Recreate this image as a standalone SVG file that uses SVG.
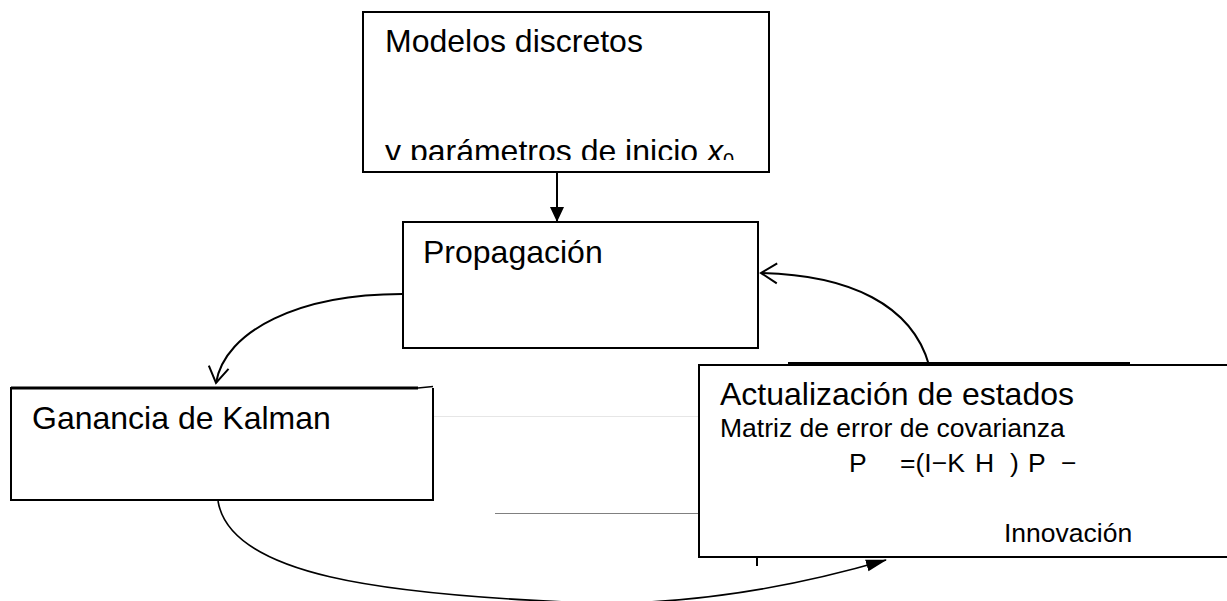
<svg xmlns="http://www.w3.org/2000/svg" width="1227" height="601" viewBox="0 0 1227 601">
<style>
.box{fill:#fff;stroke:#000;stroke-width:2}
.t{font-family:"Liberation Sans",Arial,sans-serif;fill:#000}
.h{font-size:32px}
.s{font-size:26.5px}
.c{fill:none;stroke:#000;stroke-width:2}
</style>
<defs>
<marker id="fill" markerWidth="16" markerHeight="14" refX="14" refY="7" orient="auto" markerUnits="userSpaceOnUse">
<path d="M0,0 L15,7 L0,14 Z" fill="#000"/>
</marker>
<marker id="fill2" markerWidth="22" markerHeight="14" refX="20" refY="7" orient="auto" markerUnits="userSpaceOnUse">
<path d="M0,1 L21,7 L0,13 Z" fill="#000"/>
</marker>
<marker id="open" markerWidth="20" markerHeight="24" refX="18" refY="12" orient="auto" markerUnits="userSpaceOnUse">
<path d="M2,2 L18,12 L2,22" fill="none" stroke="#000" stroke-width="2"/>
</marker>
<clipPath id="clipTop"><rect x="363" y="12" width="406" height="148"/></clipPath>
</defs>
<rect width="1227" height="601" fill="#fff"/>

<g id="connectors">
<line x1="557" y1="172" x2="557" y2="221" class="c" marker-end="url(#fill)"/>
<path d="M402,294 C300,294 225,330 216,383" class="c" marker-end="url(#open)"/>
<path d="M929,365 C912,305 850,275 761,273" class="c" marker-end="url(#open)"/>
<path d="M218,501 C230,575 380,595 590,603 C700,605 800,585 886,560" fill="none" stroke="#000" stroke-width="1.6" marker-end="url(#fill2)"/>
<line x1="495" y1="513.5" x2="699" y2="513.5" stroke="#808080" stroke-width="1.2"/>
<line x1="433" y1="416.5" x2="699" y2="416.5" stroke="#e6e6e6" stroke-width="1"/>
<line x1="757" y1="558" x2="757" y2="566" stroke="#000" stroke-width="2"/>
</g>

<g id="node-modelos">
<rect x="363" y="12" width="406" height="160" class="box"/>
<text x="385" y="52" class="t h">Modelos discretos</text>
<g clip-path="url(#clipTop)">
<text x="385" y="162" class="t h">y parámetros de inicio <tspan font-style="italic">x</tspan><tspan font-size="20" dy="5">0</tspan></text>
</g>
</g>

<g id="node-propagacion">
<rect x="403" y="222" width="355" height="126" class="box"/>
<text x="423" y="263" class="t h">Propagación</text>
</g>

<g id="node-ganancia">
<path d="M418,388 H11 V500 H433 V388" fill="#fff" stroke="#000" stroke-width="2"/>
<line x1="11" y1="388" x2="418" y2="388" stroke="#000" stroke-width="3"/>
<line x1="418" y1="388" x2="433" y2="386.5" stroke="#000" stroke-width="1.5"/>
<text x="32" y="429" class="t h">Ganancia de Kalman</text>
</g>

<g id="node-actualizacion">
<rect x="699" y="365" width="545" height="192" class="box"/>
<line x1="788" y1="363.5" x2="1130" y2="363.5" stroke="#000" stroke-width="3"/>
<text x="720" y="405" class="t h">Actualización de estados</text>
<text x="720" y="437" class="t s">Matriz de error de covarianza</text>
<text y="472" class="t s"><tspan x="849">P</tspan><tspan x="900">=(I−K</tspan><tspan x="975">H</tspan><tspan x="1010">)</tspan><tspan x="1028">P</tspan><tspan x="1061">−</tspan></text>
<text x="1004" y="542" class="t s">Innovación</text>
</g>
</svg>
